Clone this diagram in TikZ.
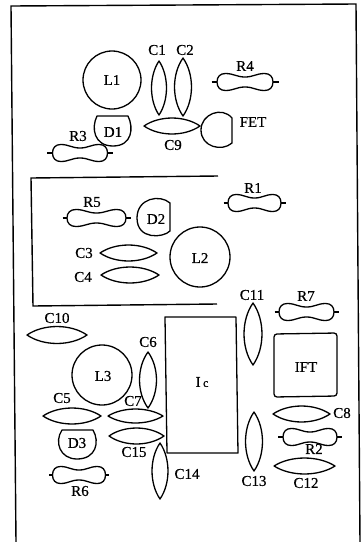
\documentclass[tikz,border=0pt]{standalone}
\usepackage{fontspec}
\setmainfont{Liberation Serif}
\newfontfamily\lblfont{Liberation Serif}[RawFeature={embolden=0.5}]
\newcommand{\lensH}[4]{\begin{scope}[shift={(#1,#2)},xscale=#3,yscale=#4]
\draw[part] (-1,0) .. controls (-.45,-1.33) and (.45,-1.33) .. (1,0) .. controls (.45,1.33) and (-.45,1.33) .. cycle;
\end{scope}}
\newcommand{\lensV}[4]{\begin{scope}[shift={(#1,#2)},xscale=#4,yscale=#3]
\draw[part] (0,-1) .. controls (-1.33,-.45) and (-1.33,.45) .. (0,1) .. controls (1.33,.45) and (1.33,-.45) .. cycle;
\end{scope}}
% centre x, centre y, body half length, lead half length
\newcommand{\resis}[4]{\begin{scope}[shift={(#1,#2)}]
\draw[part] (-#4,0) -- (-#3,0);
\draw[part] (#3,0) -- (#4,0);
\begin{scope}[xscale=#3]
\draw[part] (-1,0) .. controls (-1,-5.5) and (-.88,-8.5) .. (-.7,-8.5)
 .. controls (-.4,-8.5) and (-.3,-5) .. (0,-5)
 .. controls (.3,-5) and (.4,-8.5) .. (.7,-8.5)
 .. controls (.88,-8.5) and (1,-5.5) .. (1,0)
 .. controls (1,5.5) and (.88,8.5) .. (.7,8.5)
 .. controls (.4,8.5) and (.3,5) .. (0,5)
 .. controls (-.3,5) and (-.4,8.5) .. (-.7,8.5)
 .. controls (-.88,8.5) and (-1,5.5) .. (-1,0) -- cycle;
\end{scope}\end{scope}}
\begin{document}
\begin{tikzpicture}[x=1pt,y=-1pt,
 part/.style={draw=black,line width=1.3pt,line join=round},
 wall/.style={draw=black,line width=1.4pt},
 lbl/.style={inner sep=0pt,font=\lblfont\fontsize{15}{15}\selectfont,text=black}]
\useasboundingbox (0,0) rectangle (363,542);
% outer frame
\draw[wall] (16,542) -- (11,6) -- (356,4) -- (360,542);
% inner bracket
\draw[wall] (218,176) -- (31,178) -- (33,306) -- (217,304);
% top group
\draw[part] (112,80) circle (29);
\lensV{159}{88}{27}{7.5}
\lensV{183}{87}{29}{8.5}
\resis{245}{82}{28}{33.5}
\draw[part] (97,116) -- (128,116) .. controls (134,128) and (132,146) .. (113,146) .. controls (94,146) and (91,128) .. (97,116) -- cycle;
\draw[part] (232,118) -- (232,143) .. controls (222,152) and (201,147) .. (201,130) .. controls (201,114) and (222,106) .. (232,118) -- cycle;
\lensH{172}{126}{28}{8}
\resis{80}{153}{27.5}{33}
% middle group
\resis{254.5}{203}{26.5}{31}
\resis{96.5}{218}{29.5}{34}
\draw[part] (170,203) -- (170,231) .. controls (163,238) and (137,240) .. (137,218) .. controls (137,198) and (160,194) .. (170,203) -- cycle;
\lensH{128.5}{253}{28.5}{8}
\lensH{130}{275}{29}{8}
\draw[part] (200,257) circle (30);
% right and IC
\lensV{253}{334}{31}{9}
\resis{306.5}{312}{27.5}{32}
\lensH{57}{335}{30}{8.5}
\lensV{148}{380}{28}{8.5}
\draw[part] (165,317) -- (236,317) -- (238,453) -- (167,453) -- cycle;
\draw[part,rounded corners=3pt] (274,334) -- (337,333) -- (337,396) -- (274,397) -- cycle;
\draw[part] (102,375) circle (30);
\lensH{72}{416}{29}{8}
\lensH{135.5}{416}{27.5}{7}
\lensH{136.5}{436}{27.5}{8}
\draw[part] (62,430) -- (93,430) .. controls (100,442) and (96,459) .. (77,459) .. controls (60,459) and (54,442) .. (62,430) -- cycle;
\resis{79}{475}{26.5}{30}
\lensV{160}{471}{28}{8}
\lensV{254}{441.5}{29.5}{8.5}
\lensH{301.5}{414}{28.5}{8}
\resis{310}{437}{27}{32}
\lensH{304.5}{466}{30.5}{8}
% labels
\node[lbl] (tL1) at (112,80) {L1};
\node[lbl] (tC1) at (157,50) {C1};
\node[lbl] (tC2) at (185,50) {C2};
\node[lbl] (tR4) at (245,66) {R4};
\node[lbl] (tD1) at (113,132) {D1};
\node[lbl] (tFET) at (253,122) {FET};
\node[lbl] (tC9) at (173,145) {C9};
\node[lbl] (tR3) at (78,136) {R3};
\node[lbl] (tR1) at (253,188) {R1};
\node[lbl] (tR5) at (92,202) {R5};
\node[lbl] (tD2) at (156,219) {D2};
\node[lbl] (tC3) at (84,253) {C3};
\node[lbl] (tC4) at (83,277) {C4};
\node[lbl] (tL2) at (200,258) {L2};
\node[lbl] (tC11) at (252,295) {C11};
\node[lbl] (tR7) at (306,296) {R7};
\node[lbl] (tC10) at (57,318) {C10};
\node[lbl] (tC6) at (148,342) {C6};
\node[lbl] (tIc) at (202,382) {I\,{\fontsize{12}{12}\selectfont c}};
\node[lbl] (tIFT) at (306,367) {IFT};
\node[lbl] (tL3) at (103,376) {L3};
\node[lbl] (tC5) at (62,398) {C5};
\node[lbl] (tC7) at (133,401) {C7};
\node[lbl] (tC15) at (134,452) {C15};
\node[lbl] (tD3) at (77,443) {D3};
\node[lbl] (tR6) at (80,491) {R6};
\node[lbl] (tC14) at (187,474) {C14};
\node[lbl] (tC13) at (254,481) {C13};
\node[lbl] (tC8) at (342,413) {C8};
\node[lbl] (tR2) at (314,449) {R2};
\node[lbl] (tC12) at (306,483) {C12};
\end{tikzpicture}
\end{document}
